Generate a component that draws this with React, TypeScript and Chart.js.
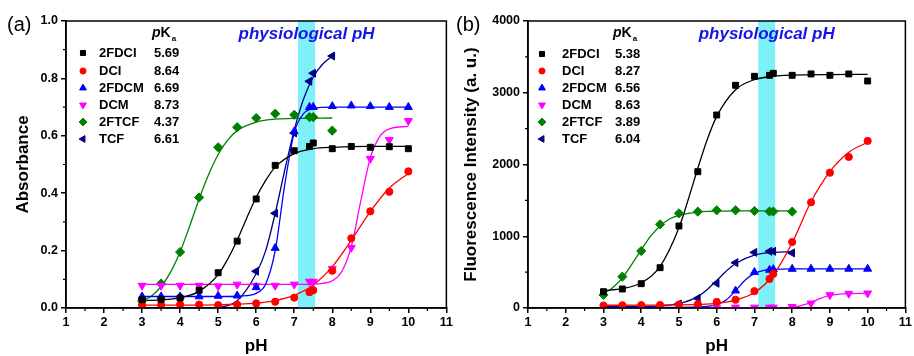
import React, { useEffect, useRef } from 'react';
import { Chart, registerables } from 'chart.js';
import { drawPoint } from 'chart.js/helpers';

Chart.register(...registerables);

const FONT = '"Liberation Sans", Arial, Helvetica, sans-serif';

// ---------- series styling ----------
const seriesNames = ['2FDCI', 'DCI', '2FDCM', 'DCM', '2FTCF', 'TCF'];
const seriesColors = ['#000000', '#ff0000', '#0000ff', '#ff00ff', '#008000', '#000080'];
const pointStyles = ['rect', 'circle', 'triangle', 'triangle', 'rectRot', 'triangle'];
const pointRotations = [0, 0, 0, 180, 0, -90];
const pointRadii = [4.2, 3.6, 4.6, 4.6, 4.6, 4.6];

// ---------- ticks ----------
const xTicks = [1, 2, 3, 4, 5, 6, 7, 8, 9, 10, 11];
const yTicksA = [0, 0.2, 0.4, 0.6, 0.8, 1.0];
const yTicksB = [0, 1000, 2000, 3000, 4000];

// ---------- pKa legend values ----------
const pKaA = ['5.69', '8.64', '6.69', '8.73', '4.37', '6.61'];
const pKaB = ['5.38', '8.27', '6.56', '8.63', '3.89', '6.04'];

// ---------- measured points ----------
const pHFull = [3, 3.5, 4, 4.5, 5, 5.5, 6, 6.5, 7, 7.4, 7.5, 8, 8.5, 9, 9.5, 10];
const pHTo8 = [3, 3.5, 4, 4.5, 5, 5.5, 6, 6.5, 7, 7.4, 7.5, 8];

// (a) Absorbance
const a2FDCI = [0.029, 0.03, 0.035, 0.062, 0.123, 0.233, 0.38, 0.497, 0.548, 0.563, 0.575, 0.555, 0.563, 0.56, 0.562, 0.555];
const aDCI = [0.01, 0.01, 0.012, 0.012, 0.01, 0.012, 0.016, 0.022, 0.036, 0.055, 0.062, 0.13, 0.243, 0.337, 0.405, 0.476];
const a2FDCM = [0.04, 0.04, 0.04, 0.04, 0.042, 0.043, 0.072, 0.209, 0.615, 0.70, 0.70, 0.703, 0.705, 0.703, 0.70, 0.70];
const aDCM = [0.078, 0.078, 0.078, 0.078, 0.076, 0.082, 0.078, 0.078, 0.082, 0.092, 0.092, 0.137, 0.21, 0.52, 0.586, 0.652];
const a2FTCF = [0.025, 0.085, 0.195, 0.385, 0.56, 0.63, 0.662, 0.677, 0.673, 0.665, 0.665, 0.618];
const pHTCFa = [6, 6.5, 7, 7.4, 7.5, 8];
const aTCF = [0.128, 0.33, 0.61, 0.79, 0.818, 0.878];

// (b) Fluorescence
const b2FDCI = [227, 265, 339, 562, 1143, 1900, 2690, 3104, 3229, 3243, 3271, 3243, 3262, 3243, 3262, 3164];
const bDCI = [35, 38, 40, 42, 48, 55, 85, 115, 235, 405, 475, 920, 1473, 1886, 2105, 2328];
const pH2FDCMb = [6.5, 7, 7.4, 7.5, 8, 8.5, 9, 9.5, 10];
const b2FDCM = [241, 500, 530, 540, 544, 545, 545, 545, 545];
const pHDCMb = [5.5, 6, 6.5, 7, 7.4, 7.5, 8, 8.5, 9, 9.5, 10];
const bDCM = [8, 8, 8, 8, 8, 8, 17, 65, 181, 200, 205];
const b2FTCF = [181, 437, 794, 1166, 1320, 1343, 1362, 1362, 1352, 1345, 1345, 1343];
const pHTCFb = [5, 5.5, 6, 6.5, 7, 7.4, 7.5, 8];
const bTCF = [56, 135, 344, 632, 775, 790, 790, 768];

// ---------- fitted curves ----------
// (a)
const cxA2FDCI = [3, 3.5, 4, 4.5, 5, 5.25, 5.5, 5.75, 6, 6.25, 6.5, 7, 7.5, 8, 9, 10];
const cyA2FDCI = [0.026, 0.028, 0.036, 0.058, 0.116, 0.17, 0.236, 0.313, 0.386, 0.445, 0.491, 0.538, 0.555, 0.56, 0.563, 0.563];
const cxADCI = [3, 4, 5, 5.5, 6, 6.5, 7, 7.5, 8, 8.5, 9, 9.5, 10];
const cyADCI = [0.01, 0.01, 0.011, 0.013, 0.017, 0.026, 0.044, 0.08, 0.144, 0.236, 0.336, 0.418, 0.469];
const cxA2FDCM = [3, 4, 5, 5.5, 5.75, 6, 6.25, 6.5, 6.75, 7, 7.25, 7.5, 8, 9, 10];
const cyA2FDCM = [0.04, 0.04, 0.04, 0.041, 0.043, 0.051, 0.084, 0.2, 0.429, 0.611, 0.678, 0.695, 0.7, 0.7, 0.7];
const cxADCM = [3, 5, 7, 7.5, 7.75, 8, 8.25, 8.5, 8.75, 9, 9.25, 9.5, 10];
const cyADCM = [0.082, 0.082, 0.082, 0.083, 0.086, 0.095, 0.127, 0.214, 0.373, 0.523, 0.598, 0.624, 0.633];
const cxA2FTCF = [3, 3.25, 3.5, 3.75, 4, 4.25, 4.5, 4.75, 5, 5.25, 5.5, 6, 6.5, 7, 8];
const cyA2FTCF = [0.024, 0.042, 0.075, 0.125, 0.195, 0.285, 0.38, 0.465, 0.535, 0.585, 0.618, 0.648, 0.658, 0.661, 0.662];
const cxATCF = [5, 5.5, 6, 6.25, 6.5, 6.75, 7, 7.25, 7.5, 7.75, 8];
const cyATCF = [0.0, 0.025, 0.12, 0.2, 0.33, 0.48, 0.62, 0.73, 0.805, 0.85, 0.878];

// (b)
const cxB2FDCI = [3, 3.5, 4, 4.5, 5, 5.25, 5.5, 5.75, 6, 6.5, 7, 7.5, 8, 9, 10];
const cyB2FDCI = [242, 269, 351, 581, 1119, 1519, 1948, 2348, 2671, 3043, 3182, 3231, 3247, 3254, 3255];
const cxBDCI = [3, 4, 5, 5.5, 6, 6.5, 7, 7.5, 8, 8.5, 9, 9.5, 10];
const cyBDCI = [38, 40, 44, 50, 65, 110, 215, 460, 910, 1480, 1900, 2170, 2310];
const cxB2FDCM = [3, 5, 5.5, 6, 6.25, 6.5, 6.75, 7, 7.25, 7.5, 8, 9, 10];
const cyB2FDCM = [10, 10, 14, 48, 112, 242, 386, 483, 525, 538, 544, 545, 545];
const cxBDCM = [3, 5, 7, 8, 8.25, 8.5, 8.75, 9, 9.5, 10];
const cyBDCM = [5, 5, 5, 8, 35, 77, 133, 175, 201, 205];
const cxB2FTCF = [3, 3.25, 3.5, 3.75, 4, 4.25, 4.5, 4.75, 5, 5.5, 6, 7, 8];
const cyB2FTCF = [200, 287, 420, 609, 811, 1001, 1144, 1241, 1291, 1337, 1350, 1354, 1355];
const cxBTCF = [3, 4, 4.5, 5, 5.5, 5.75, 6, 6.25, 6.5, 7, 7.5, 8];
const cyBTCF = [20, 22, 31, 61, 159, 259, 383, 513, 621, 738, 775, 786];

const zip = (xs: number[], ys: number[]) => ys.map((y, i) => ({ x: xs[i], y }));

type PanelCfg = {
  tag: string;
  tagX: number;
  yTitle: string;
  yTicks: number[];
  yMin: number;
  yMax: number;
  yFmt: (v: number) => string;
  yWidth: number;
  padRight: number;
  titlePad: number;
  pKa: string[];
  legend: { mx: number; nx: number; vx: number; hx: number; rows: number[]; hy: number };
  points: { x: number; y: number }[][];
  curves: { x: number; y: number }[][];
};

const panelA: PanelCfg = {
  tag: '(a)',
  tagX: 7,
  yTitle: 'Absorbance',
  yTicks: yTicksA,
  yMin: 0,
  yMax: 1,
  yFmt: (v) => v.toFixed(1),
  yWidth: 66,
  padRight: 3,
  titlePad: 13,
  pKa: pKaA,
  legend: { mx: 83, nx: 99, vx: 154, hx: 152, hy: 33, rows: [53, 71, 88, 105, 122, 139] },
  points: [
    zip(pHFull, a2FDCI),
    zip(pHFull, aDCI),
    zip(pHFull, a2FDCM),
    zip(pHFull, aDCM),
    zip(pHTo8, a2FTCF),
    zip(pHTCFa, aTCF),
  ],
  curves: [
    zip(cxA2FDCI, cyA2FDCI),
    zip(cxADCI, cyADCI),
    zip(cxA2FDCM, cyA2FDCM),
    zip(cxADCM, cyADCM),
    zip(cxA2FTCF, cyA2FTCF),
    zip(cxATCF, cyATCF),
  ],
};

const panelB: PanelCfg = {
  tag: '(b)',
  tagX: 1,
  yTitle: 'Fluorescence Intensity (a. u.)',
  yTicks: yTicksB,
  yMin: 0,
  yMax: 4000,
  yFmt: (v) => String(v),
  yWidth: 73,
  padRight: 7,
  titlePad: 6,
  pKa: pKaB,
  legend: { mx: 87, nx: 107, vx: 160, hx: 158, hy: 33, rows: [54, 71, 88, 105, 122, 139] },
  points: [
    zip(pHFull, b2FDCI),
    zip(pHFull, bDCI),
    zip(pH2FDCMb, b2FDCM),
    zip(pHDCMb, bDCM),
    zip(pHTo8, b2FTCF),
    zip(pHTCFb, bTCF),
  ],
  curves: [
    zip(cxB2FDCI, cyB2FDCI),
    zip(cxBDCI, cyBDCI),
    zip(cxB2FDCM, cyB2FDCM),
    zip(cxBDCM, cyBDCM),
    zip(cxB2FTCF, cyB2FTCF),
    zip(cxBTCF, cyBTCF),
  ],
};

const BAND_FROM = 7.1;
const BAND_TO = 7.55;

function makePlugin(cfg: PanelCfg) {
  return {
    id: 'panelDecor',
    beforeDatasetsDraw(chart: any) {
      const { ctx, chartArea, scales } = chart;
      const x1 = scales.x.getPixelForValue(BAND_FROM);
      const x2 = scales.x.getPixelForValue(BAND_TO);
      ctx.save();
      ctx.fillStyle = '#7ef0f8';
      ctx.fillRect(x1, chartArea.top, x2 - x1, chartArea.bottom - chartArea.top);
      ctx.restore();
    },
    afterDraw(chart: any) {
      const { ctx, chartArea, scales } = chart;
      const { left, right, top, bottom } = chartArea;
      ctx.save();
      // frame
      ctx.strokeStyle = '#000';
      ctx.lineWidth = 1.5;
      ctx.strokeRect(left, top, right - left, bottom - top);
      // minor ticks
      ctx.lineWidth = 1.2;
      ctx.beginPath();
      for (let i = 0; i < xTicks.length - 1; i++) {
        const px = scales.x.getPixelForValue((xTicks[i] + xTicks[i + 1]) / 2);
        ctx.moveTo(px, bottom);
        ctx.lineTo(px, bottom + 3);
      }
      for (let i = 0; i < cfg.yTicks.length - 1; i++) {
        const py = scales.y.getPixelForValue((cfg.yTicks[i] + cfg.yTicks[i + 1]) / 2);
        ctx.moveTo(left, py);
        ctx.lineTo(left - 3, py);
      }
      ctx.stroke();

      // panel tag
      ctx.fillStyle = '#000';
      ctx.textBaseline = 'middle';
      ctx.textAlign = 'left';
      ctx.font = `20px ${FONT}`;
      ctx.fillText(cfg.tag, cfg.tagX, 25);

      // physiological pH
      const cx = (scales.x.getPixelForValue(BAND_FROM) + scales.x.getPixelForValue(BAND_TO)) / 2;
      ctx.font = `italic bold 17px ${FONT}`;
      ctx.fillStyle = '#1515e8';
      ctx.textAlign = 'center';
      ctx.fillText('physiological pH', cx, 34);

      // legend header
      const L = cfg.legend;
      ctx.textAlign = 'left';
      ctx.fillStyle = '#000';
      ctx.font = `italic bold 14px ${FONT}`;
      ctx.fillText('p', L.hx, L.hy);
      const pw = ctx.measureText('p').width;
      ctx.font = `bold 14px ${FONT}`;
      ctx.fillText('K', L.hx + pw, L.hy);
      const kw = ctx.measureText('K').width;
      ctx.font = `bold 8px ${FONT}`;
      ctx.fillText('a', L.hx + pw + kw + 1, L.hy + 6);

      // legend rows
      for (let i = 0; i < seriesNames.length; i++) {
        const y = L.rows[i];
        ctx.fillStyle = seriesColors[i];
        ctx.strokeStyle = seriesColors[i];
        ctx.lineWidth = 1;
        drawPoint(ctx, {
          pointStyle: pointStyles[i],
          rotation: pointRotations[i],
          radius: pointRadii[i] * 0.85,
          borderWidth: 1,
        } as any, L.mx, y);
        ctx.fillStyle = '#000';
        ctx.font = `bold 13px ${FONT}`;
        ctx.fillText(seriesNames[i], L.nx, y);
        ctx.fillText(cfg.pKa[i], L.vx, y);
      }
      ctx.restore();
    },
  };
}

function Panel({ cfg, width }: { cfg: PanelCfg; width: number }) {
  const ref = useRef<HTMLCanvasElement | null>(null);
  useEffect(() => {
    if (!ref.current) return;
    const pointSets = cfg.points.map((data, i) => ({
      type: 'line' as const,
      label: seriesNames[i],
      data,
      showLine: false,
      pointStyle: pointStyles[i],
      rotation: pointRotations[i],
      pointRadius: pointRadii[i],
      pointBackgroundColor: seriesColors[i],
      pointBorderColor: seriesColors[i],
      pointBorderWidth: 1,
      borderColor: seriesColors[i],
      backgroundColor: seriesColors[i],
    }));
    const curveSets = cfg.curves.map((data, i) => ({
      type: 'line' as const,
      label: seriesNames[i] + ' fit',
      data,
      showLine: true,
      pointRadius: 0,
      borderColor: seriesColors[i],
      borderWidth: 1.3,
      cubicInterpolationMode: 'monotone' as const,
      fill: false,
    }));
    const chart = new Chart(ref.current, {
      type: 'line',
      data: { datasets: [...pointSets, ...curveSets] as any },
      options: {
        responsive: false,
        animation: false,
        devicePixelRatio: 1,
        layout: { padding: { top: 21, right: cfg.padRight, left: 0, bottom: 0 } },
        plugins: { legend: { display: false }, tooltip: { enabled: false } },
        scales: {
          x: {
            type: 'linear',
            min: 1,
            max: 11,
            afterBuildTicks: (s: any) => {
              s.ticks = xTicks.map((v) => ({ value: v }));
            },
            afterFit: (s: any) => {
              s.height = 48;
            },
            ticks: {
              autoSkip: false,
              maxRotation: 0,
              padding: 2,
              color: '#000',
              font: { family: FONT, size: 12.5, weight: 'bold' },
              callback: (v: any) => String(v),
            },
            grid: { drawOnChartArea: false, drawTicks: true, tickLength: 5, color: '#000', lineWidth: 1.5 },
            border: { display: true, color: '#000', width: 1.5 },
            title: {
              display: true,
              text: 'pH',
              color: '#000',
              font: { family: FONT, size: 17, weight: 'bold', lineHeight: 1 },
              padding: { top: 0, bottom: 1 },
            },
          },
          y: {
            type: 'linear',
            min: cfg.yMin,
            max: cfg.yMax,
            afterBuildTicks: (s: any) => {
              s.ticks = cfg.yTicks.map((v) => ({ value: v }));
            },
            afterFit: (s: any) => {
              s.width = cfg.yWidth;
            },
            ticks: {
              padding: 3,
              color: '#000',
              font: { family: FONT, size: 12.5, weight: 'bold' },
              callback: (v: any) => cfg.yFmt(Number(v)),
            },
            grid: { drawOnChartArea: false, drawTicks: true, tickLength: 5, color: '#000', lineWidth: 1.5 },
            border: { display: true, color: '#000', width: 1.5 },
            title: {
              display: true,
              text: cfg.yTitle,
              color: '#000',
              font: { family: FONT, size: 17, weight: 'bold' },
              padding: { top: cfg.titlePad, bottom: 0 },
            },
          },
        },
      },
      plugins: [makePlugin(cfg)],
    } as any);
    return () => chart.destroy();
  }, [cfg]);
  return <canvas ref={ref} width={width} height={356} style={{ display: 'block', width, height: 356 }} />;
}

export default function App() {
  return (
    <div
      style={{
        position: 'absolute',
        left: 0,
        top: 0,
        width: 914,
        height: 356,
        background: '#fff',
        display: 'flex',
        flexDirection: 'row',
      }}
    >
      <Panel cfg={panelA} width={455} />
      <Panel cfg={panelB} width={459} />
    </div>
  );
}
